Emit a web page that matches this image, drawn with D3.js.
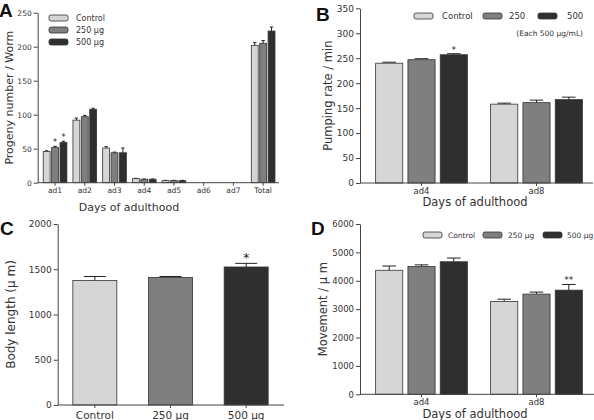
<!DOCTYPE html>
<html>
<head>
<meta charset="utf-8">
<script src="https://cdn.jsdelivr.net/npm/d3@7"></script>
<style>
	body { margin: 0; background: #fff; }
	svg { display: block; font-family: "DejaVu Sans", Verdana, sans-serif; }
</style>
</head>
<body>
<div id="container"></div>
<script>
// ---- data ----
var seriesNames = ["Control", "250 µg", "500 µg"]

// A: progeny
var daysA = ["ad1", "ad2", "ad3", "ad4", "ad5", "ad6", "ad7", "Total"]
var progenyControl = [46, 92, 51, 6, 3, 0, 0, 202]
var progeny250 = [52, 97, 44, 5, 3, 0, 0, 205]
var progeny500 = [59, 108, 44, 5, 3, 0, 0, 223]
var progenyErrControl = [1, 3, 2, 0.5, 0.5, 0, 0, 4]
var progenyErr250 = [1.5, 2, 1, 0.5, 0.5, 0, 0, 4]
var progenyErr500 = [2, 1.5, 7, 0.5, 0.5, 0, 0, 6]
var progenyStars = [["", "*", "*"], ["", "", ""], ["", "", ""], ["", "", ""], ["", "", ""], ["", "", ""], ["", "", ""], ["", "", ""]]
var progenyTicks = [0, 50, 100, 150, 200, 250]

// B: pumping rate
var daysB = ["ad4", "ad8"]
var pumpControl = [240, 158]
var pump250 = [247, 161]
var pump500 = [257, 167]
var pumpErrControl = [2, 2]
var pumpErr250 = [2, 5]
var pumpErr500 = [2, 5]
var pumpStars = [["", "", "*"], ["", "", ""]]
var pumpTicks = [0, 50, 100, 150, 200, 250, 300, 350]
var pumpLegend = ["Control", "250", "500"]

// C: body length
var groupsC = ["Control", "250 µg", "500 µg"]
var bodyLength = [1375, 1410, 1525]
var bodyErr = [45, 10, 40]
var bodyStars = ["", "", "*"]
var bodyTicks = [0, 500, 1000, 1500, 2000]

// D: movement
var daysD = ["ad4", "ad8"]
var moveControl = [4370, 3270]
var move250 = [4500, 3530]
var move500 = [4670, 3670]
var moveErrControl = [150, 80]
var moveErr250 = [60, 70]
var moveErr500 = [130, 200]
var moveStars = [["", "", ""], ["", "", "**"]]
var moveTicks = [0, 1000, 2000, 3000, 4000, 5000, 6000]

var fills = ["#d6d6d6", "#7f7f7f", "#2f2f2f"]
var axisColor = "#444"

var svg = d3.select("#container").append("svg")
	.attr("width", 594)
	.attr("height", 420)

// grouped bar panel
let drawGrouped = cfg => {
	let g = svg.append("g")

	let yScale = d3.scaleLinear()
		.domain(cfg.yDomain)
		.range([cfg.bottom, cfg.top])

	let xScale = d3.scaleBand()
		.domain(cfg.categories)
		.range([cfg.left, cfg.right])

	let inner = d3.scaleBand()
		.domain(d3.range(cfg.series.length))
		.range([0, xScale.bandwidth()])
		.paddingInner(cfg.innerPad)
		.paddingOuter(cfg.outerPad)

	cfg.series.forEach((vals, s) => {
		let rows = cfg.categories.map((c, i) => ({ cat: c, i: i, v: vals[i], e: cfg.errors[s][i], star: cfg.stars[i][s] }))

		// error bars (upper only)
		let eb = g.selectAll(".err" + s)
			.data(rows.filter(d => d.v > 0))
			.enter()
			.append("g").attr("class", "err" + s)
		eb.append("line")
			.attr("x1", d => xScale(d.cat) + inner(s) + inner.bandwidth() / 2)
			.attr("x2", d => xScale(d.cat) + inner(s) + inner.bandwidth() / 2)
			.attr("y1", d => yScale(d.v))
			.attr("y2", d => yScale(d.v + d.e))
			.attr("stroke", "#222").attr("stroke-width", 1)
		eb.append("line")
			.attr("x1", d => xScale(d.cat) + inner(s) + inner.bandwidth() * 0.25)
			.attr("x2", d => xScale(d.cat) + inner(s) + inner.bandwidth() * 0.75)
			.attr("y1", d => yScale(d.v + d.e))
			.attr("y2", d => yScale(d.v + d.e))
			.attr("stroke", "#222").attr("stroke-width", 1)

		g.selectAll(".bar" + s)
			.data(rows.filter(d => d.v > 0))
			.enter()
			.append("rect").attr("class", "bar" + s)
			.attr("x", d => xScale(d.cat) + inner(s))
			.attr("y", d => yScale(d.v))
			.attr("width", inner.bandwidth())
			.attr("height", d => cfg.bottom - yScale(d.v))
			.attr("fill", d => cfg.colorByCat ? fills[d.i] : fills[s])
			.attr("stroke", "#333")
			.attr("stroke-width", 0.8)

		g.selectAll(".star" + s)
			.data(rows.filter(d => d.star))
			.enter()
			.append("text").attr("class", "star" + s)
			.attr("x", d => xScale(d.cat) + inner(s) + inner.bandwidth() / 2)
			.attr("y", d => yScale(d.v + d.e) - 1)
			.attr("text-anchor", "middle")
			.style("font-size", cfg.starSize + "px")
			.attr("fill", "#222")
			.text(d => d.star)
	})

	// x axis
	let xAxis = d3.axisBottom(xScale).tickSize(3).tickSizeOuter(0).tickPadding(cfg.xTickPad || 2)
	let xg = g.append("g")
		.attr("transform", "translate(0, " + cfg.bottom + ")")
		.call(xAxis)
	xg.select(".domain").remove()
	xg.selectAll("line").attr("stroke", axisColor)
	xg.selectAll("text").style("font-size", cfg.xTickSize + "px").attr("fill", "#333")
		.style("font-family", "DejaVu Sans")
	g.append("line")
		.attr("x1", cfg.axisX).attr("x2", cfg.axisEnd)
		.attr("y1", cfg.bottom).attr("y2", cfg.bottom)
		.attr("stroke", axisColor)

	// y axis
	let yAxis = d3.axisLeft(yScale).tickValues(cfg.yTicks).tickFormat(d3.format("d"))
		.tickSize(4).tickSizeOuter(0).tickPadding(2)
	let yg = g.append("g")
		.attr("transform", "translate(" + cfg.axisX + ", 0)")
		.call(yAxis)
	yg.select(".domain").attr("stroke", axisColor)
	yg.selectAll("line").attr("stroke", axisColor)
	yg.selectAll("text").style("font-size", cfg.yTickSize + "px").attr("fill", "#333")
		.style("font-family", "DejaVu Sans")

	// labels
	g.append("text")
		.attr("transform", "rotate(-90)")
		.style("text-anchor", "middle")
		.attr("x", -(cfg.top + cfg.bottom) / 2)
		.attr("y", cfg.yLabelX)
		.style("font-size", cfg.labelSize + "px")
		.attr("fill", "#333")
		.text(cfg.yLabel)

	if (cfg.xLabel) {
		g.append("text")
			.style("text-anchor", "middle")
			.attr("x", cfg.xLabelX)
			.attr("y", cfg.xLabelY)
			.style("font-size", cfg.labelSize + "px")
			.attr("fill", "#333")
			.text(cfg.xLabel)
	}

	g.append("text")
		.attr("x", cfg.letterX)
		.attr("y", cfg.letterY)
		.style("font-family", "Liberation Sans, Arial, sans-serif")
		.style("font-weight", "bold")
		.style("font-size", "19px")
		.attr("fill", "#111")
		.text(cfg.letter)

	return g
}

let drawLegend = (g, items, xs, ys, textXs, size) => {
	items.forEach((name, i) => {
		g.append("rect")
			.attr("x", xs[i]).attr("y", ys[i] - 3)
			.attr("width", 19).attr("height", 6)
			.attr("rx", 2)
			.attr("fill", fills[i])
			.attr("stroke", "#333").attr("stroke-width", 0.8)
		g.append("text")
			.attr("x", textXs[i]).attr("y", ys[i])
			.attr("dy", "0.35em")
			.style("font-size", size + "px")
			.attr("fill", "#333")
			.text(name)
	})
}

// ---- A ----
let gA = drawGrouped({
	categories: daysA,
	series: [progenyControl, progeny250, progeny500],
	errors: [progenyErrControl, progenyErr250, progenyErr500],
	stars: progenyStars,
	yDomain: [0, 250], yTicks: progenyTicks,
	top: 12.7, bottom: 182.7, left: 40.2, right: 278,
	axisX: 37.7, axisEnd: 279,
	innerPad: 0.18, outerPad: 0.36,
	starSize: 8, xTickSize: 7.5, yTickSize: 7.5, labelSize: 11,
	yLabel: "Progeny number / Worm", yLabelX: 13,
	xLabel: "Days of adulthood", xLabelX: 129, xLabelY: 211,
	letter: "A", letterX: -1, letterY: 17
})
drawLegend(gA, seriesNames, [49, 49, 49], [18, 30, 42], [76, 76, 76], 8)

// ---- B ----
let gB = drawGrouped({
	categories: daysB,
	series: [pumpControl, pump250, pump500],
	errors: [pumpErrControl, pumpErr250, pumpErr500],
	stars: pumpStars,
	yDomain: [0, 350], yTicks: pumpTicks,
	top: 8.3, bottom: 183, left: 364, right: 594,
	axisX: 360, axisEnd: 593,
	innerPad: 0.16, outerPad: 0.36,
	starSize: 9, xTickSize: 8.5, yTickSize: 9, labelSize: 11.5,
	yLabel: "Pumping rate / min", yLabelX: 332,
	xLabel: "Days of adulthood", xLabelX: 475, xLabelY: 206,
	letter: "B", letterX: 316, letterY: 21
})
drawLegend(gB, pumpLegend, [414, 483, 538], [16, 16, 16], [442, 509, 567], 8.5)
gB.append("text")
	.attr("x", 583).attr("y", 36)
	.attr("text-anchor", "end")
	.style("font-size", "7.5px")
	.attr("fill", "#333")
	.text("(Each 500 µg/mL)")

// ---- C ----
let gC = drawGrouped({
	categories: groupsC,
	series: [bodyLength],
	errors: [bodyErr],
	stars: bodyStars.map(s => [s]),
	colorByCat: true,
	yDomain: [0, 2000], yTicks: bodyTicks,
	top: 224, bottom: 405, left: 57, right: 284,
	axisX: 57.7, axisEnd: 284,
	innerPad: 0, outerPad: 0.36,
	starSize: 12, xTickSize: 10.5, yTickSize: 9, labelSize: 12,
	xTickPad: 4,
	yLabel: "Body length (µ m)", yLabelX: 15,
	xLabel: null,
	letter: "C", letterX: 0, letterY: 235
})

// ---- D ----
let gD = drawGrouped({
	categories: daysD,
	series: [moveControl, move250, move500],
	errors: [moveErrControl, moveErr250, moveErr500],
	stars: moveStars,
	yDomain: [0, 6000], yTicks: moveTicks,
	top: 224, bottom: 394.3, left: 364, right: 594,
	axisX: 360, axisEnd: 594,
	innerPad: 0.16, outerPad: 0.36,
	starSize: 9, xTickSize: 8.5, yTickSize: 8.5, labelSize: 11.5,
	yLabel: "Movement / µ m", yLabelX: 327,
	xLabel: "Days of adulthood", xLabelX: 475, xLabelY: 418,
	letter: "D", letterX: 311, letterY: 235
})
drawLegend(gD, seriesNames, [423, 483, 543], [235, 235, 235], [448, 508, 567], 7.5)
</script>
</body>
</html>
